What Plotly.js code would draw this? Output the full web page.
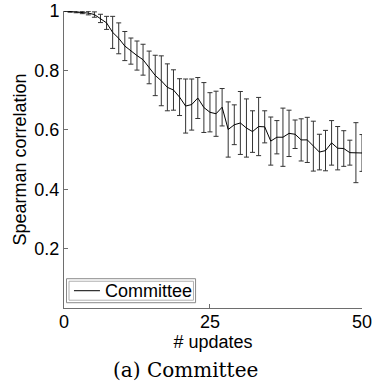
<!DOCTYPE html>
<html>
<head>
<meta charset="utf-8">
<script src="https://cdn.plot.ly/plotly-3.0.1.min.js"></script>
<style>html,body{margin:0;padding:0;background:#fff;}#chart{width:372px;height:387px;}</style>
</head>
<body>
<div id="chart"></div>
<script>
const updates = [1,2,3,4,5,6,7,8,9,10,11,12,13,14,15,16,17,18,19,20,21,22,23,24,25,26,27,28,29,30,31,32,33,34,35,36,37,38,39,40,41,42,43,44,45,46,47,48,49,50];
const committeeMean = [1.000,0.998,0.997,0.995,0.993,0.988,0.975,0.960,0.928,0.908,
  0.882,0.865,0.850,0.836,0.810,0.783,0.765,0.743,0.734,0.710,
  0.680,0.685,0.707,0.675,0.659,0.654,0.676,0.601,0.617,0.623,
  0.606,0.594,0.611,0.610,0.562,0.575,0.575,0.588,0.585,0.566,
  0.566,0.545,0.525,0.530,0.556,0.538,0.537,0.523,0.523,0.522];
const committeeErr = [0.000,0.002,0.003,0.004,0.006,0.009,0.014,0.022,0.054,0.052,
  0.049,0.044,0.049,0.052,0.055,0.068,0.084,0.079,0.068,0.062,
  0.091,0.086,0.069,0.084,0.066,0.076,0.063,0.093,0.067,0.106,
  0.098,0.070,0.098,0.054,0.081,0.056,0.098,0.078,0.048,0.071,
  0.076,0.084,0.060,0.068,0.075,0.073,0.060,0.042,0.101,0.062];
const seriesName = 'Committee';
const xTickVals = [1, 25, 50];
const xTickText = ['0', '25', '50'];
const yTickVals = [0.2, 0.4, 0.6, 0.8, 1];
const yTickText = ['0.2', '0.4', '0.6', '0.8', '1'];

const font = "'Liberation Sans', Arial, Helvetica, sans-serif";
const axisColor = '#6e6e6e';

const trace = {
  x: updates, y: committeeMean, type: 'scatter', mode: 'lines', name: seriesName,
  showlegend: false,
  line: {color: '#000', width: 1},
  error_y: {type: 'data', array: committeeErr, visible: true, color: '#333', thickness: 1, width: 2.5}
};

// compact legend box as in the original figure
const legendShapes = [
  {type: 'rect', xref: 'paper', yref: 'paper', x0: 0.0084, x1: 0.4415, y0: 0.0178, y1: 0.0986,
   line: {color: '#8a8a8a', width: 1}, fillcolor: '#fff', layer: 'above'},
  {type: 'rect', xref: 'paper', yref: 'paper', x0: 0.0168, x1: 0.4345, y0: 0.0262, y1: 0.0901,
   line: {color: '#b0b0b0', width: 1}, layer: 'above'},
  {type: 'line', xref: 'paper', yref: 'paper', x0: 0.0335, x1: 0.1207, y0: 0.0582, y1: 0.0582,
   line: {color: '#000', width: 1}, layer: 'above'}
];

const layout = {
  width: 372, height: 387,
  margin: {l: 64, r: 10, t: 11, b: 79},
  paper_bgcolor: '#fff', plot_bgcolor: '#fff',
  font: {family: font, size: 18, color: '#000'},
  showlegend: false,
  xaxis: {range: [1, 50], tickvals: xTickVals, ticktext: xTickText,
    showgrid: false, zeroline: false, showline: true, linecolor: axisColor, linewidth: 1,
    ticks: 'inside', ticklen: 4, tickcolor: axisColor, mirror: false,
    ticklabeloverflow: 'allow', ticklabelstandoff: -3,
    tickfont: {family: font, size: 18},
    title: {text: '# updates', font: {family: font, size: 18}, standoff: 0}},
  yaxis: {range: [0, 1], tickvals: yTickVals, ticktext: yTickText,
    showgrid: false, zeroline: false, showline: true, linecolor: axisColor, linewidth: 1,
    ticks: 'inside', ticklen: 4, tickcolor: axisColor, mirror: false,
    ticklabeloverflow: 'allow',
    tickfont: {family: font, size: 18},
    title: {text: 'Spearman correlation', font: {family: font, size: 18}, standoff: 3}},
  shapes: legendShapes,
  annotations: [
    {text: seriesName, xref: 'paper', yref: 'paper', x: 0.131, y: 0.0582,
     xanchor: 'left', yanchor: 'middle', showarrow: false,
     font: {family: font, size: 18, color: '#000'}},
    {text: '(a) Committee', xref: 'paper', yref: 'paper', x: 0.409, y: -0.208,
     xanchor: 'center', yanchor: 'middle', showarrow: false,
     font: {family: "'DejaVu Serif', 'Liberation Serif', serif", size: 20, color: '#000'}}]
};

Plotly.newPlot('chart', [trace], layout, {displayModeBar: false, staticPlot: true});
</script>
</body>
</html>
